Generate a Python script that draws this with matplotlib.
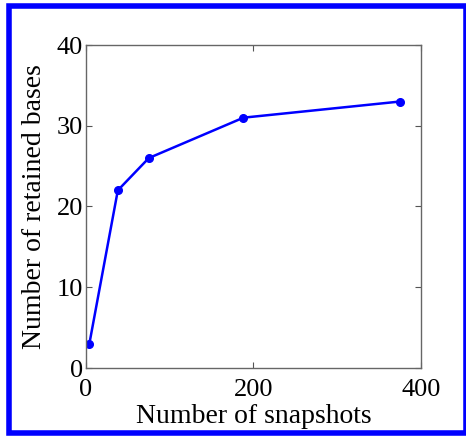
import matplotlib
matplotlib.use("Agg")
import matplotlib.pyplot as plt
from matplotlib.patches import Rectangle

snapshots = [4, 38, 75, 188, 375]
retained_bases = [3, 22, 26, 31, 33]

plt.rcParams['font.family'] = ['Liberation Serif', 'DejaVu Serif']

fig = plt.figure(figsize=(4.66, 4.36), dpi=100)
W, H = 466, 436
ax = fig.add_axes([86 / W, 1 - 368 / H, (421 - 86) / W, (368 - 45) / H])

ax.plot(snapshots, retained_bases, color='#0000ff', lw=1.8, marker='o', ms=5.5)

ax.set_xlim(0, 400)
ax.set_ylim(0, 40)
ax.set_xticks([0, 200, 400])
ax.set_yticks([0, 10, 20, 30, 40])
ax.tick_params(direction='in', top=True, right=True, labelsize=19,
               length=4, color='#555555', pad=2)
ax.tick_params(axis='x', pad=8)
for s in ax.spines.values():
    s.set_color('#666666')
    s.set_linewidth(1.0)
ax.set_xlabel('Number of snapshots', fontsize=20, labelpad=2)
ax.set_ylabel('Number of retained bases', fontsize=20, labelpad=7)

# blue frame round the figure
fig.patches.append(Rectangle((8.5 / W, 3 / H), (465.5 - 8.5) / W, (433 - 6.5) / H,
                             transform=fig.transFigure, fill=False,
                             edgecolor='#0000ff', lw=4))

fig.savefig('out.png', dpi=100)
